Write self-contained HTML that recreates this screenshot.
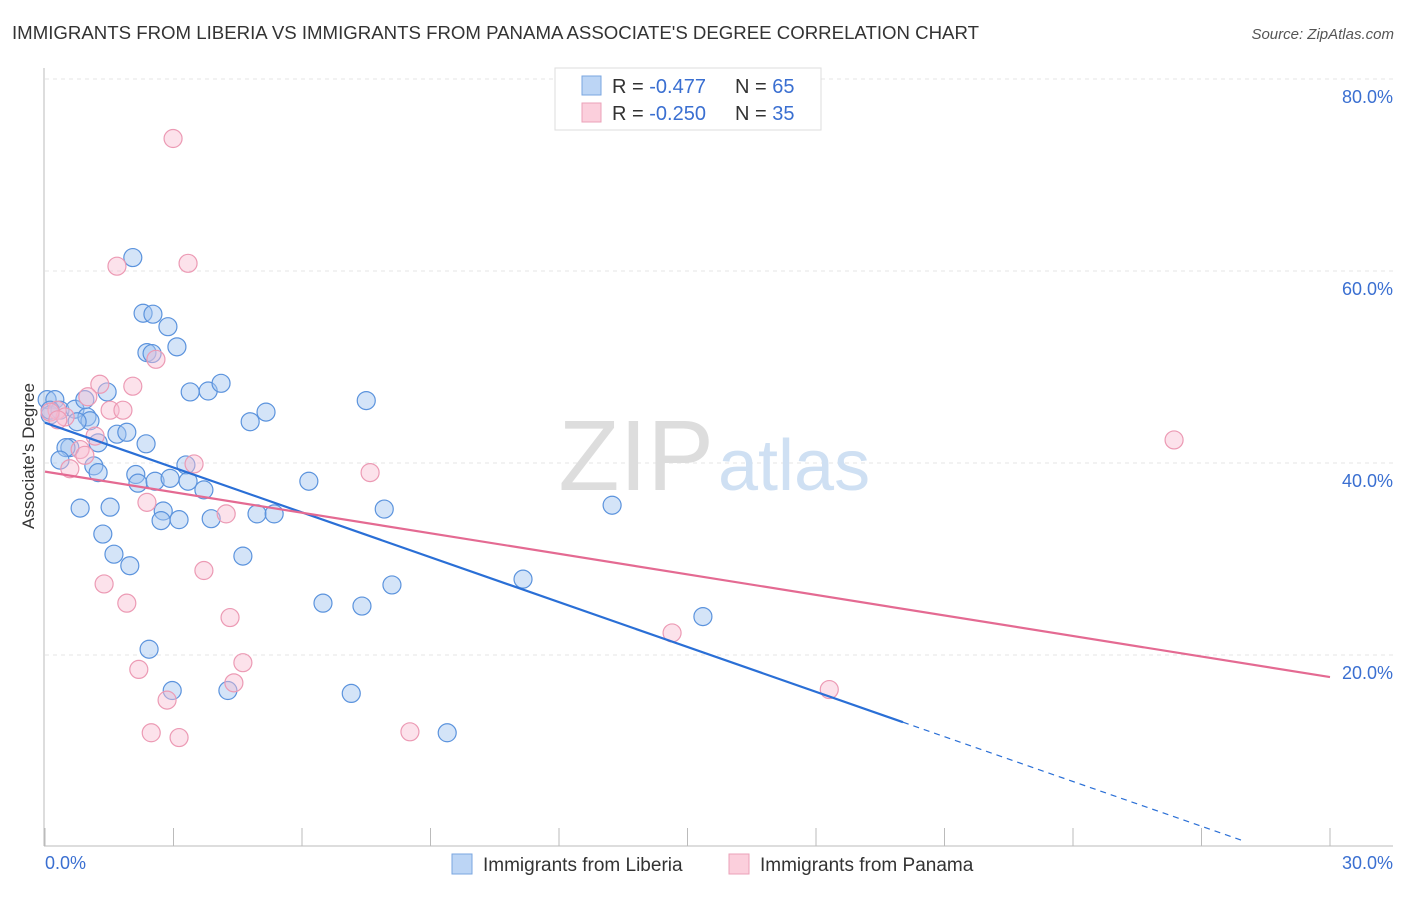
<!DOCTYPE html>
<html><head><meta charset="utf-8"><style>
body{margin:0;background:#fff;font-family:"Liberation Sans",sans-serif;}
svg text{font-family:"Liberation Sans",sans-serif;}
</style></head><body>
<svg width="1406" height="892" xmlns="http://www.w3.org/2000/svg">
<text x="12" y="39" font-size="18.5" fill="#333" textLength="967" lengthAdjust="spacingAndGlyphs">IMMIGRANTS FROM LIBERIA VS IMMIGRANTS FROM PANAMA ASSOCIATE'S DEGREE CORRELATION CHART</text>
<text x="1394" y="39" font-size="15" fill="#555" font-style="italic" text-anchor="end">Source: ZipAtlas.com</text>
<text x="34" y="456" font-size="17" fill="#333" text-anchor="middle" transform="rotate(-90 34 456)">Associate's Degree</text>
<g id="grid"></g>
<g id="axes"></g>
<text x="714" y="490" font-size="100" fill="#ddd" text-anchor="end" font-family="Liberation Serif">ZIP</text>
<text x="718" y="490" font-size="72" fill="#cfe0f3">atlas</text>
<g id="pts"></g>
<g id="lines"></g>
<g>
<rect x="555" y="68" width="266" height="62" fill="#fff" stroke="#ddd"/>
<rect x="582" y="76" width="19" height="19" fill="#bcd5f5" stroke="#7aa6e0"/>
<rect x="582" y="103" width="19" height="19" fill="#fbcfdc" stroke="#eba2b8"/>
<text x="612" y="93" font-size="20" fill="#333">R = <tspan fill="#3a6fd1">-0.477</tspan></text>
<text x="735" y="93" font-size="20" fill="#333">N = <tspan fill="#3a6fd1">65</tspan></text>
<text x="612" y="120" font-size="20" fill="#333">R = <tspan fill="#3a6fd1">-0.250</tspan></text>
<text x="735" y="120" font-size="20" fill="#333">N = <tspan fill="#3a6fd1">35</tspan></text>
</g>
<g>
<rect x="452" y="854" width="20" height="20" fill="#bcd5f5" stroke="#7aa6e0"/>
<text x="483" y="871" font-size="19" fill="#333">Immigrants from Liberia</text>
<rect x="729" y="854" width="20" height="20" fill="#fbcfdc" stroke="#eba2b8"/>
<text x="760" y="871" font-size="19" fill="#333">Immigrants from Panama</text>
</g>
</svg>
<script>
const yTicks=[20,40,60,80];
const yTickLabels=["20.0%","40.0%","60.0%","80.0%"];
const xEndLabels=["0.0%","30.0%"];
const liberiaX=[2.05,2.29,2.52,2.87,3.08,2.38,2.50,3.39,3.81,4.11,1.45,7.50,5.16,4.79,0.05,0.23,0.12,0.35,0.70,0.98,1.05,0.75,0.93,1.24,1.68,1.91,2.36,0.58,0.49,0.35,1.14,1.24,2.12,2.17,2.57,2.92,3.29,3.34,3.71,6.16,0.82,1.52,2.76,2.71,3.13,3.88,4.95,5.35,7.92,13.24,1.35,1.61,1.98,4.62,11.16,8.10,6.49,7.40,15.36,2.43,2.97,4.27,7.15,9.39,0.12];
const liberiaY=[61.4,55.6,55.5,54.2,52.1,51.5,51.4,47.4,47.5,48.3,47.4,46.5,45.3,44.3,46.6,46.6,45.0,45.5,45.6,44.8,44.4,44.3,46.6,42.1,43.0,43.2,42.0,41.6,41.6,40.3,39.7,39.0,38.8,37.9,38.1,38.4,39.8,38.1,37.2,38.1,35.3,35.4,35.0,34.0,34.1,34.2,34.7,34.7,35.2,35.6,32.6,30.5,29.3,30.3,27.9,27.3,25.4,25.1,24.0,20.6,16.3,16.3,16.0,11.9,45.5];
const panamaX=[2.99,1.68,3.34,2.59,2.05,1.28,1.00,1.52,1.82,0.28,0.47,1.17,0.82,3.48,0.58,7.59,2.38,4.23,1.38,3.71,1.91,4.32,26.36,14.64,4.62,2.19,4.41,2.85,2.48,3.13,8.52,18.31,0.12,0.30,0.93];
const panamaY=[73.8,60.5,60.8,50.8,48.0,48.2,46.9,45.5,45.5,45.5,44.8,42.8,41.4,39.9,39.4,39.0,35.9,34.7,27.4,28.8,25.4,23.9,42.4,22.3,19.2,18.5,17.1,15.3,11.9,11.4,12.0,16.4,45.3,44.5,40.8];
const liberiaTrend=[44.2,13.0,0.6];
const liberiaTrendX=[0,20.03,28];
const panamaTrend=[39.1,17.7];
const panamaTrendX=[0,30];

const X0=45,X1=1330,Y0=847,Y80=79;
const sx=v=>X0+(X1-X0)*v/30;
const sy=v=>Y0-(Y0-Y80)*v/80;
const NS="http://www.w3.org/2000/svg";
function mk(tag,attrs,parent){const e=document.createElementNS(NS,tag);for(const k in attrs)e.setAttribute(k,attrs[k]);parent.appendChild(e);return e;}
const grid=document.getElementById('grid'),axes=document.getElementById('axes');
yTicks.forEach((t,i)=>{
  const l=mk('line',{x1:45,x2:1393,y1:sy(t),y2:sy(t),stroke:'#e4e4e4','stroke-dasharray':'4,4'},grid);
  
  
  const tx=mk('text',{x:1393,y:sy(t)+24,'font-size':18,fill:'#3a6fd1','text-anchor':'end'},axes);
  tx.textContent=yTickLabels[i];
  
  
});
mk('line',{x1:44,x2:44,y1:68,y2:846,stroke:'#bbb'},axes);
mk('line',{x1:44,x2:1393,y1:846,y2:846,stroke:'#bbb'},axes);
for(let i=0;i<=10;i++){mk('line',{x1:sx(i*3),x2:sx(i*3),y1:828,y2:846,stroke:'#bbb'},axes);}
const xl0=mk('text',{x:45,y:869,'font-size':18,fill:'#3a6fd1'},axes);xl0.textContent=xEndLabels[0];


const xl1=mk('text',{x:1393,y:869,'font-size':18,fill:'#3a6fd1','text-anchor':'end'},axes);xl1.textContent=xEndLabels[1];


const pts=document.getElementById('pts');
liberiaX.forEach((x,i)=>{const c=mk('circle',{cx:sx(x),cy:sy(liberiaY[i]),r:9,fill:'rgba(160,195,240,0.45)',stroke:'#5b93dd','stroke-width':1.2},pts);
  
  });
panamaX.forEach((x,i)=>{const c=mk('circle',{cx:sx(x),cy:sy(panamaY[i]),r:9,fill:'rgba(248,190,210,0.45)',stroke:'#ec9ab4','stroke-width':1.2},pts);
  
  });
const lines=document.getElementById('lines');
const b1=mk('line',{x1:sx(liberiaTrendX[0]),y1:sy(liberiaTrend[0]),x2:sx(liberiaTrendX[1]),y2:sy(liberiaTrend[1]),stroke:'#2a6fd6','stroke-width':2.2},lines);


const b2=mk('line',{x1:sx(liberiaTrendX[1]),y1:sy(liberiaTrend[1]),x2:sx(liberiaTrendX[2]),y2:sy(liberiaTrend[2]),stroke:'#2a6fd6','stroke-width':1.2,'stroke-dasharray':'6,5'},lines);


const p1=mk('line',{x1:sx(panamaTrendX[0]),y1:sy(panamaTrend[0]),x2:sx(panamaTrendX[1]),y2:sy(panamaTrend[1]),stroke:'#e46a92','stroke-width':2.2},lines);


</script>
</body></html>
